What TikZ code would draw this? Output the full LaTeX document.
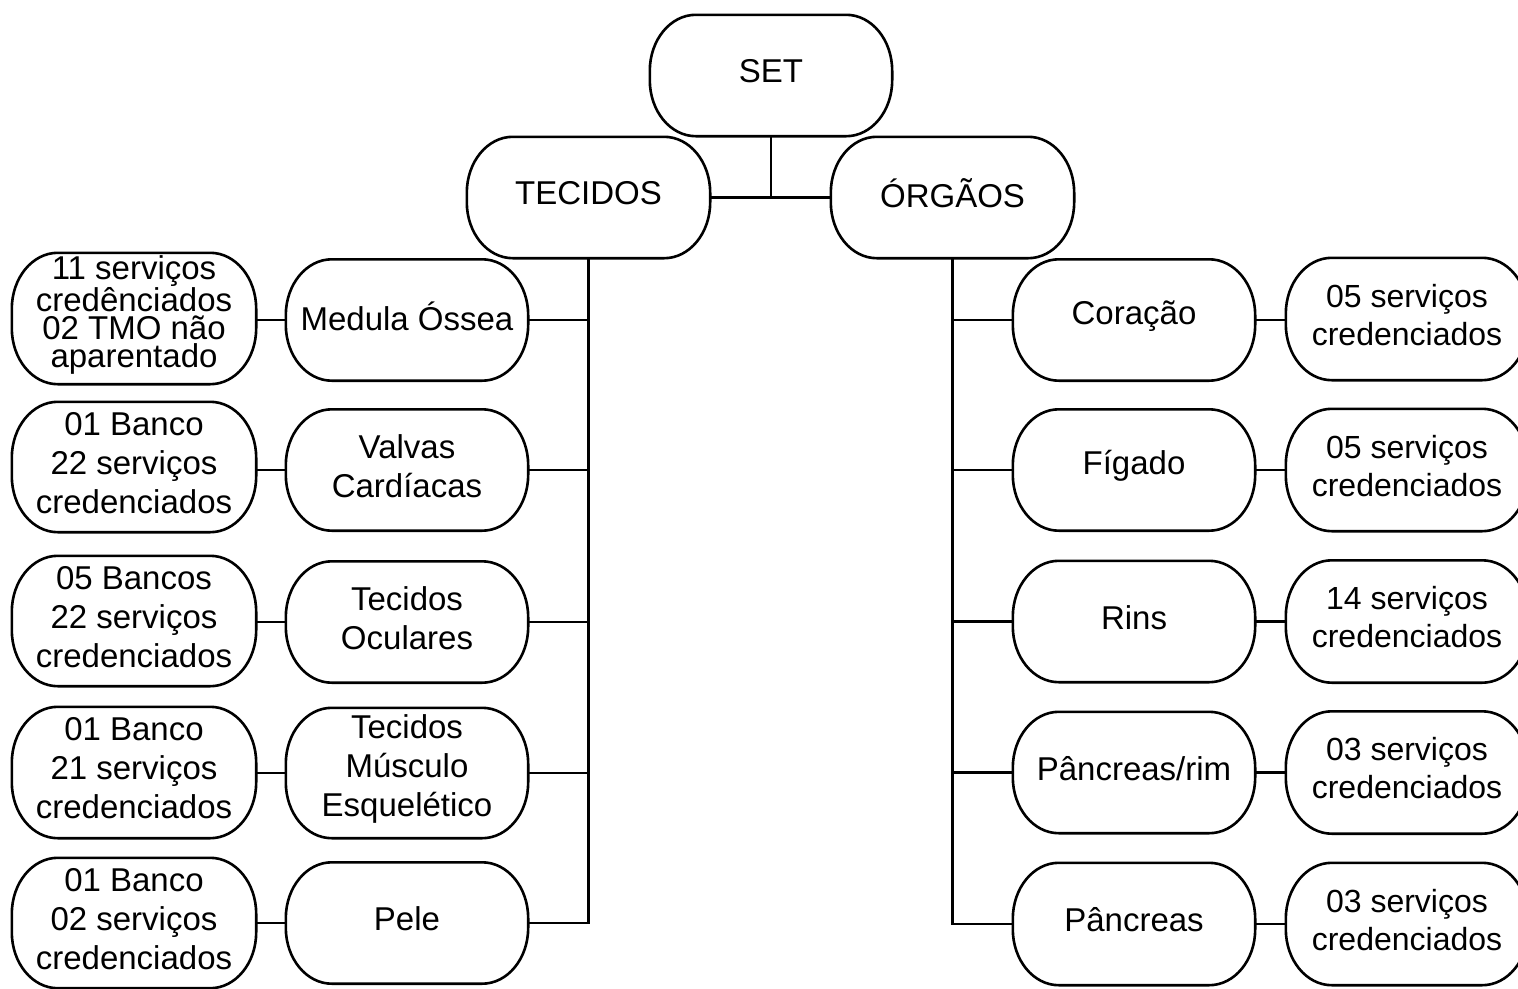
\documentclass[tikz,border=0pt]{standalone}
\usepackage{fontspec}
\setmainfont{Liberation Sans}
\usetikzlibrary{calc}
\begin{document}
\begin{tikzpicture}[x=1pt,y=1pt,
  box/.style={minimum width=242pt, minimum height=121pt, inner sep=0pt},
  lbl/.style={inner sep=0pt, align=center, yshift=4pt, font=\fontsize{33}{39}\selectfont},
  rlbl/.style={lbl, font=\fontsize{32}{38}\selectfont},
  conn/.style={line width=2.6pt},
  outline/.style={line width=2.6pt, line join=round}]
\useasboundingbox (0,0) rectangle (1518,-988);
% top
\node[box, label={[lbl]center:SET}] (set) at (771,-75.5) {};
\node[box, minimum width=243pt, label={[lbl]center:TECIDOS}] (tec) at (588.5,-197.5) {};
\node[box, minimum width=243pt, label={[lbl]center:ÓRGÃOS}] (org) at (952.5,-197.5) {};
% left middle column
\node[box, label={[lbl]center:Medula Óssea}] (med) at (407,-320) {};
\node[box, label={[lbl]center:{Valvas\\Cardíacas}}] (val) at (407,-470) {};
\node[box, label={[lbl]center:{Tecidos\\Oculares}}] (ocu) at (407,-622) {};
\node[box, minimum height=130pt, label={[lbl]center:{Tecidos\\Músculo\\Esquelético}}] (mus) at (407,-773) {};
\node[box, label={[lbl]center:Pele}] (pel) at (407,-923) {};
% left column
\node[box, minimum width=244pt, minimum height=131pt, label={[lbl, font=\fontsize{33}{28}\selectfont]center:{11 serviços\\credênciados\\02 TMO não\\aparentado}}] (l1) at (134,-318.5) {};
\node[box, minimum width=244pt, minimum height=130pt, label={[lbl]center:{01 Banco\\22 serviços\\credenciados}}] (l2) at (134,-467) {};
\node[box, minimum width=244pt, minimum height=130pt, label={[lbl]center:{05 Bancos\\22 serviços\\credenciados}}] (l3) at (134,-621) {};
\node[box, minimum width=244pt, minimum height=131pt, label={[lbl]center:{01 Banco\\21 serviços\\credenciados}}] (l4) at (134,-772.5) {};
\node[box, minimum width=244pt, minimum height=130pt, label={[lbl]center:{01 Banco\\02 serviços\\credenciados}}] (l5) at (134,-923) {};
% right middle column
\node[box, label={[lbl]center:Coração}] (cor) at (1134,-320) {};
\node[box, label={[lbl]center:Fígado}] (fig) at (1134,-470) {};
\node[box, label={[lbl]center:Rins}] (rin) at (1134,-621.5) {};
\node[box, label={[lbl]center:Pâncreas/rim}] (pr) at (1134,-772.5) {};
\node[box, minimum height=122pt, label={[lbl]center:Pâncreas}] (pan) at (1134,-924) {};
% right column
\node[box, minimum height=122pt, label={[rlbl]center:{05 serviços\\credenciados}}] (r1) at (1407,-319) {};
\node[box, minimum height=122pt, label={[rlbl]center:{05 serviços\\credenciados}}] (r2) at (1407,-470) {};
\node[box, minimum height=122pt, label={[rlbl]center:{14 serviços\\credenciados}}] (r3) at (1407,-621.5) {};
\node[box, minimum height=122pt, label={[rlbl]center:{03 serviços\\credenciados}}] (r4) at (1407,-772.5) {};
\node[box, minimum height=122pt, label={[rlbl]center:{03 serviços\\credenciados}}] (r5) at (1407,-924) {};
% outlines: rounded boxes with elliptical corners
\foreach \b in {set,tec,org,med,val,ocu,mus,pel,l1,l2,l3,l4,l5,cor,fig,rin,pr,pan,r1,r2,r3,r4,r5}{
  \draw[outline] let \p1=(\b.north west), \p2=(\b.south east) in
    (\x1+46pt,\y1) -- (\x2-46pt,\y1)
    arc[start angle=90,end angle=0,x radius=46pt,y radius=56pt]
    -- (\x2,\y2+56pt)
    arc[start angle=0,end angle=-90,x radius=46pt,y radius=56pt]
    -- (\x1+46pt,\y2)
    arc[start angle=270,end angle=180,x radius=46pt,y radius=56pt]
    -- (\x1,\y1-56pt)
    arc[start angle=180,end angle=90,x radius=46pt,y radius=56pt] -- cycle;
}
% connectors top
\draw[conn] (set.south) -- (set.south |- tec.east);
\draw[conn] (tec.east) -- (org.west);
% tecidos tree
\draw[conn] (tec.south) -- (tec.south |- pel.east) -- (pel.east);
\foreach \b in {med,val,ocu,mus}{
  \draw[conn] (tec.south |- \b.east) -- (\b.east);
}
\foreach \a/\b in {l1/med,l2/val,l3/ocu,l4/mus,l5/pel}{
  \draw[conn] (\b.west) -- (\b.west -| \a.east);
}
% orgaos tree
\draw[conn] (org.south) -- (org.south |- pan.west) -- (pan.west);
\foreach \b in {cor,fig,rin,pr}{
  \draw[conn] (org.south |- \b.west) -- (\b.west);
}
\foreach \a/\b in {cor/r1,fig/r2,rin/r3,pr/r4,pan/r5}{
  \draw[conn] (\a.east) -- (\a.east -| \b.west);
}
\end{tikzpicture}
\end{document}
